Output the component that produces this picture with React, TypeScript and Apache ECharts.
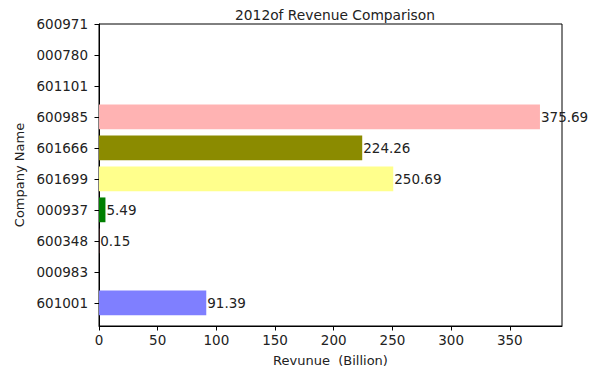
import React, { useEffect, useRef } from "react";
import * as echarts from "echarts";

const categories = ["601001", "000983", "600348", "000937", "601699", "601666", "600985", "601101", "000780", "600971"];
const revenue: (number | null)[] = [91.39, null, 0.15, 5.49, 250.69, 224.26, 375.69, null, null, null];
const barColors = ["#7f7fff", "#cccccc", "#ff7f7f", "#007f00", "#ffff8c", "#8b8b00", "#ffb3b3", "#cccccc", "#cccccc", "#cccccc"];
const xTicks = [0, 50, 100, 150, 200, 250, 300, 350];
const titleText = "2012of Revenue Comparison";
const xName = "Revunue  (Billion)";
const yName = "Company Name";

const FONT = "DejaVu Sans";
const TEXT = "#222";

export default function App() {
  const ref = useRef<HTMLDivElement>(null);
  useEffect(() => {
    if (!ref.current) return;
    const chart = echarts.init(ref.current, undefined, { renderer: "svg" });
    const data = revenue
      .map((v, i) => (v === null ? null : [v, i]))
      .filter((d) => d !== null);
    chart.setOption({
      animation: false,
      backgroundColor: "#ffffff",
      title: {
        text: titleText,
        left: 330,
        top: 3,
        textAlign: "center",
        textStyle: { fontFamily: FONT, fontSize: 13.8, fontWeight: "normal", color: TEXT },
      },
      grid: {
        left: 99,
        right: 51,
        top: 24,
        bottom: 53,
        show: true,
        borderColor: "#000",
        borderWidth: 1,
        backgroundColor: "transparent",
      },
      xAxis: {
        type: "value",
        min: 0,
        max: 394.47,
        interval: 50,
        name: xName,
        nameLocation: "middle",
        nameGap: 28,
        nameTextStyle: { fontFamily: FONT, fontSize: 13, color: TEXT },
        axisLine: { show: true, onZero: false, lineStyle: { color: "#000", width: 1 } },
        axisTick: { show: true, inside: false, length: 4.5, lineStyle: { color: "#000" }, customValues: xTicks },
        axisLabel: { fontFamily: FONT, fontSize: 13.5, color: TEXT, margin: 7, customValues: xTicks },
        splitLine: { show: false },
      },
      yAxis: {
        type: "value",
        min: -0.75,
        max: 9,
        name: yName,
        nameLocation: "middle",
        nameGap: 72,
        nameRotate: 90,
        nameTextStyle: { fontFamily: FONT, fontSize: 13, color: TEXT },
        axisLine: { show: true, onZero: false, lineStyle: { color: "#000", width: 1 } },
        axisTick: {
          show: true,
          inside: false,
          length: 4.5,
          lineStyle: { color: "#000" },
          customValues: categories.map((_, i) => i),
        },
        axisLabel: {
          fontFamily: FONT,
          fontSize: 13.5,
          color: TEXT,
          margin: 11,
          customValues: categories.map((_, i) => i),
          formatter: (v: number) => categories[Math.round(v)] ?? "",
        },
        splitLine: { show: false },
      },
      series: [
        {
          type: "custom",
          clip: false,
          encode: { x: 0, y: 1 },
          data,
          renderItem: (params: any, api: any) => {
            const v = api.value(0) as number;
            const i = api.value(1) as number;
            const start = api.coord([0, i]);
            const end = api.coord([v, i]);
            const h = api.size([0, 0.8])[1];
            return {
              type: "group",
              children: [
                {
                  type: "rect",
                  shape: { x: start[0], y: start[1] - h / 2, width: Math.max(end[0] - start[0], 0), height: h },
                  style: { fill: barColors[i] },
                },
                {
                  type: "text",
                  x: end[0] + 1,
                  y: end[1],
                  style: {
                    text: String(v),
                    fontFamily: FONT,
                    fontSize: 13.5,
                    fill: TEXT,
                    verticalAlign: "middle",
                    align: "left",
                  },
                },
              ],
            };
          },
        },
      ],
    });
    return () => chart.dispose();
  }, []);
  return (
    <div
      ref={ref}
      style={{ position: "fixed", left: 0, top: 0, width: 613, height: 379, background: "#fff" }}
    />
  );
}
